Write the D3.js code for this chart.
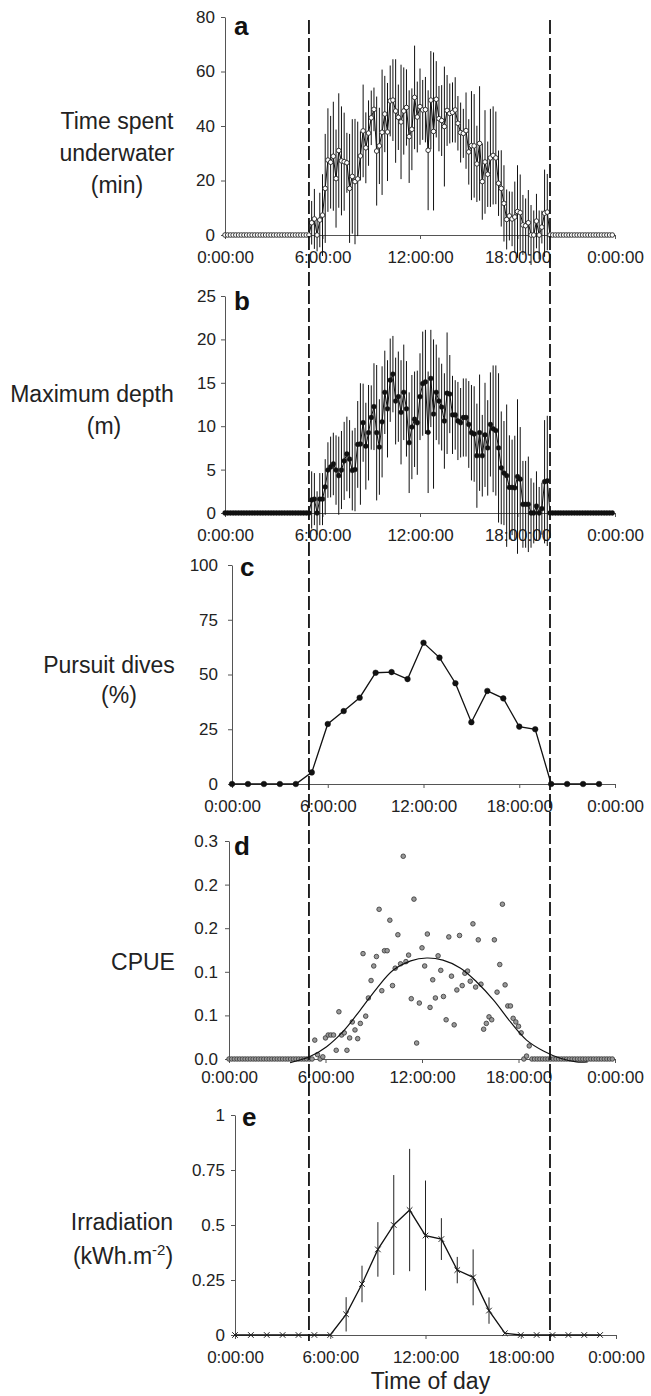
<!DOCTYPE html>
<html><head><meta charset="utf-8">
<script src="https://cdn.jsdelivr.net/npm/d3@7"></script>
<style>
html,body{margin:0;padding:0;background:#fff;}
svg{display:block;}
</style></head><body>
<svg id="chart" width="651" height="1396"></svg>
<script>
// ---------------- DATA ----------------
const hourTicks = [0, 6, 12, 18, 24];
const hourTickLabels = ["0:00:00", "6:00:00", "12:00:00", "18:00:00", "0:00:00"];
const tenMinuteSlots = d3.range(0, 1440, 10).map(m => m / 60);   // hours, 144 slots
const hourSlots = d3.range(0, 24);                                 // hours, 24 slots
const dayLimits = [5 + 10 / 60, 20];                               // sunrise / sunset (h)

// a: time spent underwater (min), mean and SD per 10-min slot
const timeSpent = [
0,0,0,0,0,0,0,0, 0,0,0,0,0,0,0,0, 0,0,0,0,0,0,0,0, 0,0,0,0,0,0,0,0,
4.5,5.9,0,5.5,7.3,17.1,27.5,26.7,28.9,20.7,
31,27.2,26.9,26.5,17.1,21.5,19.6,20.6,29,38.2,
32,37.4,43,46.1,30.8,32.7,37.7,44.4,37.8,49.2,
49.5,45.5,43.2,41.5,45.5,46.8,36.1,38.8,50.5,43.3,
47.1,45.9,46,31.1,49.5,38,49.8,42.7,42,39.8,
45.7,44.6,45,45.9,41,37.6,37.3,38.3,30.5,32.8,
32.7,26.1,33.6,19.6,26.8,22.3,28.3,29.2,28.3,19,
17.1,11.6,5.7,7,5.9,6.6,8.6,8.2,3.7,3.4,
4.5,0,0,5.1,0,2.9,8,8.4,
0,0,0,0,0,0,0,0, 0,0,0,0,0,0,0,0, 0,0,0,0,0,0,0,0];
const timeSpentSD = [
0,0,0,0,0,0,0,0, 0,0,0,0,0,0,0,0, 0,0,0,0,0,0,0,0, 0,0,0,0,0,0,0,0,
8,11,6,10,15,20,19,17,20,18,
21,20,18,11,20,21,23,21,9,17,
13,12,10,8,20,14,23,14,18,13,
15,19,12,21,16,14,17,15,19,13,
14,11,12,22,18,29,14,12,13,22,
13,11,11,12,10,11,9,14,12,20,
19,14,21,14,19,12,18,18,17,12,
14,14,11,9,10,13,17,14,11,10,
12,11,9,10,9,6,16,14,
0,0,0,0,0,0,0,0, 0,0,0,0,0,0,0,0, 0,0,0,0,0,0,0,0];

// b: maximum depth (m), mean and SD per 10-min slot
const maxDepth = [
0,0,0,0,0,0,0,0, 0,0,0,0,0,0,0,0, 0,0,0,0,0,0,0,0, 0,0,0,0,0,0,0,0,
1.5,1.6,0,1.6,1.6,3.0,4.95,5.3,5.65,4.95,
4.3,4.95,6.0,6.8,6.2,4.9,5.0,7.9,7.95,10.4,
7.7,9.25,11.0,12.25,9.25,7.6,10.5,13.9,12.0,15.3,
16.0,12.9,13.4,11.6,13.9,12.0,8.1,9.9,10.8,10.4,
13.4,14.9,15.1,9.3,15.5,11.4,13.9,12.9,12.2,10.6,
13.8,13.7,11.3,11.3,10.6,10.4,11.0,11.0,10.2,9.25,
9.1,6.6,9.25,6.6,9.0,7.5,10.2,9.7,9.5,7.5,
5.2,4.6,4.3,2.95,2.95,2.9,4.2,3.9,1.0,1.0,
1.0,0,0,0.8,0,0.5,3.6,3.7,
0,0,0,0,0,0,0,0, 0,0,0,0,0,0,0,0, 0,0,0,0,0,0,0,0];
const maxDepthSD = [
0,0,0,0,0,0,0,0, 0,0,0,0,0,0,0,0, 0,0,0,0,0,0,0,0, 0,0,0,0,0,0,0,0,
3.3,3.0,2.5,3.0,3.0,3.2,3.2,3.5,3.6,4.0,
4.5,4.5,4.5,4.3,4.5,4.6,4.8,5.0,7.0,4.5,
5.0,5.5,3.7,5.0,7.8,5.5,6.4,4.8,5.6,4.8,
4.4,5.0,5.2,6.0,5.5,5.5,5.8,6.0,5.5,6.0,
5.0,6.0,6.0,7.0,5.6,8.6,5.5,5.0,5.0,5.5,
7.0,4.5,4.5,4.0,4.5,4.0,4.5,4.5,5.0,5.5,
5.5,6.0,6.7,4.7,6.0,5.5,6.0,7.3,7.5,8.6,
6.5,6.0,8.2,6.0,5.5,6.0,8.9,6.0,5.0,5.0,
5.5,4.0,3.5,4.0,3.0,3.0,7.1,7.5,
0,0,0,0,0,0,0,0, 0,0,0,0,0,0,0,0, 0,0,0,0,0,0,0,0];

// c: pursuit dives (%) per hour
const pursuitDives = [0,0,0,0,0,5.3,27.4,33.3,39.4,50.8,51.1,47.9,64.5,57.7,46,28.2,42.5,39.1,26.2,25,0,0,0,0];

// d: CPUE per 10-min slot + fitted curve (hour, value)
const cpue = [
0,0,0,0,0,0,0,0, 0,0,0,0,0,0,0,0, 0,0,0,0,0,0,0,0, 0,0,0,0,0,0,0,0,
0.026,0.006,0,0.003,0.029,0.033,0.033,0.033,0.012,0.065,
0.033,0.036,0.012,0.029,0.051,0.040,0.028,0.049,0.145,0.059,
0.084,0.108,0.128,0.141,0.206,0.094,0.149,0.149,0.191,0.101,
0.125,0.171,0.131,0.279,0.134,0.143,0.083,0.220,0.022,0.077,
0.153,0.128,0.172,0.071,0.109,0.084,0.142,0.122,0.086,0.054,
0.168,0.114,0.047,0.095,0.170,0.101,0.118,0.121,0.107,0.186,
0.099,0.164,0.103,0.041,0.049,0.058,0.054,0.164,0.092,0.130,
0.213,0.102,0.073,0.073,0.056,0.051,0.045,0.036,0,0.004,
0.018,
0,0,0,0,0,0,0,0, 0,0,0,0,0,0,0,0, 0,0,0,0,0,0,0,0, 0,0,0,0,0,0,0];
const cpueFitHours  = [3.8, 5.0, 6.07, 7.1, 8.15, 9.18, 10.2, 11.3, 12.3, 13.3, 14.4, 15.4, 16.45, 17.5, 18.5, 19.55, 20.6, 21.6, 22.3];
const cpueFitValues = [-0.005, 0.003, 0.017, 0.038, 0.067, 0.097, 0.122, 0.135, 0.139, 0.136, 0.125, 0.106, 0.081, 0.051, 0.026, 0.011, 0.001, -0.004, -0.004];

// e: irradiation (kWh.m-2) per hour, mean and SD
const irradiation   = [0,0,0,0,0,0,0,0.094,0.232,0.389,0.5,0.568,0.452,0.436,0.295,0.262,0.111,0.008,0,0,0,0,0,0];
const irradiationSD = [0,0,0,0,0,0,0,0.078,0.083,0.124,0.227,0.278,0.25,0.095,0.06,0.127,0.06,0,0,0,0,0,0,0];

// axis ticks
const ticksA = [0, 20, 40, 60, 80];
const ticksB = [0, 5, 10, 15, 20, 25];
const ticksC = [0, 25, 50, 75, 100];
const ticksD = [0, 0.06, 0.12, 0.18, 0.24, 0.30];
const ticksE = [0, 0.25, 0.5, 0.75, 1];

const panelLetters = ["a", "b", "c", "d", "e"];
const yTitles = [["Time spent", "underwater", "(min)"], ["Maximum depth", "(m)"], ["Pursuit dives", "(%)"], ["CPUE"], ["Irradiation", "(kWh.m|-2|)"]];
const xTitle = "Time of day";

// ---------------- LAYOUT ----------------
const FONT = '"Liberation Sans", Arial, Helvetica, sans-serif';
const layouts = [
  {x0:225, x1:615, yTop:17,   yBot:235,  yPad:6,  xPad:12, letter:[9,18],  titles:[[117,121],[117,153],[117,185]]},
  {x0:225, x1:615, yTop:296,  yBot:513,  yPad:5,  xPad:12, letter:[9,14],  titles:[[92,394],[104,426]]},
  {x0:232, x1:615, yTop:565,  yBot:784,  yPad:10, xPad:12, letter:[8,11],  titles:[[109,665],[119,695]]},
  {x0:229, x1:615, yTop:841,  yBot:1059, yPad:7,  xPad:8,  letter:[5,14],  titles:[[143,962]]},
  {x0:235, x1:616, yTop:1115, yBot:1335, yPad:6,  xPad:12, letter:[7,11],  titles:[[122,1222],[123,1256]]}
];

const svg = d3.select("#chart");
svg.append("rect").attr("width", 651).attr("height", 1396).attr("fill", "#fff");

function frame(idx, yTicks, yFmt) {
  const L = layouts[idx];
  const x = d3.scaleLinear().domain([0, 24]).range([L.x0, L.x1]);
  const y = d3.scaleLinear().domain([yTicks[0], yTicks[yTicks.length - 1]]).range([L.yBot, L.yTop]);
  const g = svg.append("g");
  const xa = g.append("g").attr("transform", `translate(0,${L.yBot})`)
    .call(d3.axisBottom(x).tickValues(hourTicks).tickFormat((d, i) => hourTickLabels[i])
      .tickSize(4).tickSizeOuter(0).tickPadding(L.xPad));
  const ya = g.append("g").attr("transform", `translate(${L.x0},0)`)
    .call(d3.axisLeft(y).tickValues(yTicks).tickFormat(yFmt).tickSize(4).tickSizeOuter(0).tickPadding(L.yPad));
  [xa, ya].forEach(a => {
    a.selectAll("text").attr("font-size", 17).attr("font-family", FONT).attr("fill", "#222");
    a.selectAll("line,path").attr("stroke", "#555").attr("stroke-width", 1);
  });
  // panel letter
  g.append("text").attr("x", L.x0 + L.letter[0]).attr("y", L.yTop + L.letter[1])
    .attr("font-family", FONT).attr("font-weight", "bold").attr("font-size", 26).attr("fill", "#111")
    .text(panelLetters[idx]);
  // y title
  yTitles[idx].forEach((line, j) => {
    const t = g.append("text").attr("x", L.titles[j][0]).attr("y", L.titles[j][1] + 8)
      .attr("text-anchor", "middle").attr("font-family", FONT).attr("font-size", 23).attr("fill", "#222");
    const parts = line.split("|");
    parts.forEach((p, k) => {
      const ts = t.append("tspan").text(p);
      if (k === 1) ts.attr("font-size", 15).attr("dy", -9);
      if (k === 2) ts.attr("dy", 9);
    });
  });
  return {g, x, y};
}

function errorBars(P, xs, vals, sds, color) {
  const data = xs.map((t, i) => ({t, v: vals[i], s: sds[i]})).filter(d => d.s > 0);
  P.g.append("g").selectAll("line").data(data).join("line")
    .attr("x1", d => P.x(d.t)).attr("x2", d => P.x(d.t))
    .attr("y1", d => P.y(d.v - d.s)).attr("y2", d => P.y(d.v + d.s))
    .attr("stroke", color).attr("stroke-width", 1);
}
function seriesLine(P, xs, vals, w) {
  P.g.append("path").datum(xs.map((t, i) => [t, vals[i]]))
    .attr("fill", "none").attr("stroke", "#111").attr("stroke-width", w)
    .attr("d", d3.line().x(d => P.x(d[0])).y(d => P.y(d[1])));
}
function dots(P, xs, vals, r, fill, stroke, sw) {
  P.g.append("g").selectAll("circle").data(xs.map((t, i) => [t, vals[i]])).join("circle")
    .attr("cx", d => P.x(d[0])).attr("cy", d => P.y(d[1])).attr("r", r)
    .attr("fill", fill).attr("stroke", stroke).attr("stroke-width", sw);
}

// a
const A = frame(0, ticksA, d3.format("d"));
errorBars(A, tenMinuteSlots, timeSpent, timeSpentSD, "#111");
seriesLine(A, tenMinuteSlots, timeSpent, 1);
dots(A, tenMinuteSlots, timeSpent, 2.3, "#fff", "#222", 0.9);

// b
const B = frame(1, ticksB, d3.format("d"));
errorBars(B, tenMinuteSlots, maxDepth, maxDepthSD, "#111");
seriesLine(B, tenMinuteSlots, maxDepth, 1);
dots(B, tenMinuteSlots, maxDepth, 2.4, "#111", "#111", 0.5);

// c
const C = frame(2, ticksC, d3.format("d"));
seriesLine(C, hourSlots, pursuitDives, 1.3);
dots(C, hourSlots, pursuitDives, 2.8, "#111", "#111", 0.5);

// d
const D = frame(3, ticksD, d3.format(".1f"));
dots(D, tenMinuteSlots, cpue, 2.3, "#999", "#333", 0.8);
D.g.append("path").datum(cpueFitHours.map((h, i) => [h, cpueFitValues[i]]))
  .attr("fill", "none").attr("stroke", "#111").attr("stroke-width", 1.2)
  .attr("d", d3.line().curve(d3.curveCatmullRom).x(d => D.x(d[0])).y(d => D.y(d[1])));

// e
const E = frame(4, ticksE, d => d === 0 || d === 1 ? d3.format("d")(d) : String(d));
errorBars(E, hourSlots, irradiation, irradiationSD, "#222");
seriesLine(E, hourSlots, irradiation, 1.3);
E.g.append("g").selectAll("path.m").data(hourSlots.map((t, i) => [t, irradiation[i]])).join("path")
  .attr("transform", d => `translate(${E.x(d[0])},${E.y(d[1])})`)
  .attr("d", "M-2.8,-2.8L2.8,2.8M-2.8,2.8L2.8,-2.8")
  .attr("stroke", "#222").attr("stroke-width", 1).attr("fill", "none");

// x title
svg.append("text").attr("x", (layouts[4].x0 + layouts[4].x1) / 2 + 5).attr("y", 1389)
  .attr("text-anchor", "middle").attr("font-family", FONT).attr("font-size", 23).attr("fill", "#222")
  .text(xTitle);

// sunrise / sunset dashed lines across all panels
svg.append("g").selectAll("line").data(dayLimits).join("line")
  .attr("x1", d => A.x(d)).attr("x2", d => A.x(d))
  .attr("y1", layouts[0].yTop + 3).attr("y2", layouts[4].yBot + 6)
  .attr("stroke", "#111").attr("stroke-width", 1.8).attr("stroke-dasharray", "14,4");
</script>
</body></html>
